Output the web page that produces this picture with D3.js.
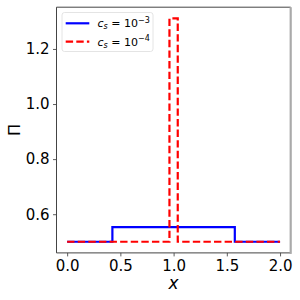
<!DOCTYPE html>
<html><head><meta charset="utf-8">
<script src="https://cdn.jsdelivr.net/npm/d3@7"></script>
<style>
body{margin:0;background:#fff}
svg{display:block;font-family:"DejaVu Sans",sans-serif}
</style></head><body>
<svg id="c" width="300" height="300"></svg>
<script>
// Data (step edges and values, drawn with step-after curves)
const blueX = [0, 0.425, 1.575, 2.0];
const blueY = [0.5, 0.553, 0.5, 0.5];
const redX = [0, 0.961, 1.039, 2.0];
const redY = [0.5, 1.311, 0.5, 0.5];
const xTicks = [0.0, 0.5, 1.0, 1.5, 2.0];
const yTicks = [0.6, 0.8, 1.0, 1.2];
const seriesNames = ["c_s = 10^{-3}", "c_s = 10^{-4}"];

const svg = d3.select("#c");
const L = 56.5, R = 290.7, T = 7.2, B = 252.9;
const x = d3.scaleLinear().domain([-0.1, 2.1]).range([L, R]);
const y = d3.scaleLinear().domain([0.4595, 1.3516]).range([B, T]);

svg.append("rect").attr("width",300).attr("height",300).attr("fill","#fff");

const line = d3.line().x(d=>x(d[0])).y(d=>y(d[1])).curve(d3.curveStepAfter);
const blue = blueX.map((v,i)=>[v, blueY[i]]);
const red = redX.map((v,i)=>[v, redY[i]]);

svg.append("path").attr("d", line(blue)).attr("fill","none")
  .attr("stroke","#0000ff").attr("stroke-width",2.2);
svg.append("path").attr("d", line(red)).attr("fill","none")
  .attr("stroke","#ff0000").attr("stroke-width",2.2)
  .attr("stroke-dasharray","7.4,3.2");

// axes
const xa = svg.append("g").attr("transform",`translate(0,${B})`)
  .call(d3.axisBottom(x).tickValues(xTicks).tickFormat(d3.format(".1f")).tickSizeOuter(0).tickSize(3.5).tickPadding(3.5));
const ya = svg.append("g").attr("transform",`translate(${L},0)`)
  .call(d3.axisLeft(y).tickValues(yTicks).tickFormat(d3.format(".1f")).tickSizeOuter(0).tickSize(3.5).tickPadding(3.5));
[xa,ya].forEach(g=>{
  g.select(".domain").remove();
  g.selectAll("line").attr("stroke","#333").attr("stroke-width",0.8);
  g.selectAll("text").attr("font-size",15).attr("fill","#000").attr("font-family","DejaVu Sans");
});

// spines
svg.append("line").attr("x1",L).attr("x2",L).attr("y1",T).attr("y2",B).attr("stroke","#444").attr("stroke-width",1);
svg.append("line").attr("x1",L).attr("x2",R).attr("y1",B).attr("y2",B).attr("stroke","#444").attr("stroke-width",1);
svg.append("line").attr("x1",L).attr("x2",R).attr("y1",T).attr("y2",T).attr("stroke","#444").attr("stroke-width",1);
svg.append("line").attr("x1",R).attr("x2",R).attr("y1",T).attr("y2",B+1).attr("stroke","#aaa").attr("stroke-width",2.2);

// axis labels
svg.append("text").attr("x",(L+R)/2).attr("y",289).attr("text-anchor","middle")
  .attr("font-size",17).attr("font-style","italic").attr("font-family","DejaVu Sans").text("x");
svg.append("text").attr("transform","translate(20,130) rotate(-90)").attr("text-anchor","middle")
  .attr("font-size",16).attr("font-family","DejaVu Sans").text("Π");

// legend
const lg = svg.append("g");
lg.append("rect").attr("x",62).attr("y",12.5).attr("width",91).attr("height",39).attr("rx",2.5)
  .attr("fill","#fff").attr("fill-opacity",0.8).attr("stroke","#ddd").attr("stroke-width",0.8);
const rows = [{c:"#0000ff",dash:null,yy:23.3,exp:"−3"},{c:"#ff0000",dash:"7.4,3.2",yy:41.7,exp:"−4"}];
rows.forEach((r,i)=>{
  lg.append("line").attr("x1",65.7).attr("x2",89.3).attr("y1",r.yy).attr("y2",r.yy)
    .attr("stroke",r.c).attr("stroke-width",2.2).attr("stroke-dasharray",r.dash);
  const t = lg.append("text").attr("x",97.5).attr("y",r.yy+4).attr("font-size",11).attr("font-family","DejaVu Sans");
  t.append("tspan").attr("font-style","italic").text("c");
  t.append("tspan").attr("font-style","italic").attr("font-size",8).attr("dy",2).text("s");
  t.append("tspan").attr("dy",-2).text(" = 10");
  t.append("tspan").attr("font-size",8).attr("dy",-4.5).text(r.exp);
});
</script>
</body></html>
